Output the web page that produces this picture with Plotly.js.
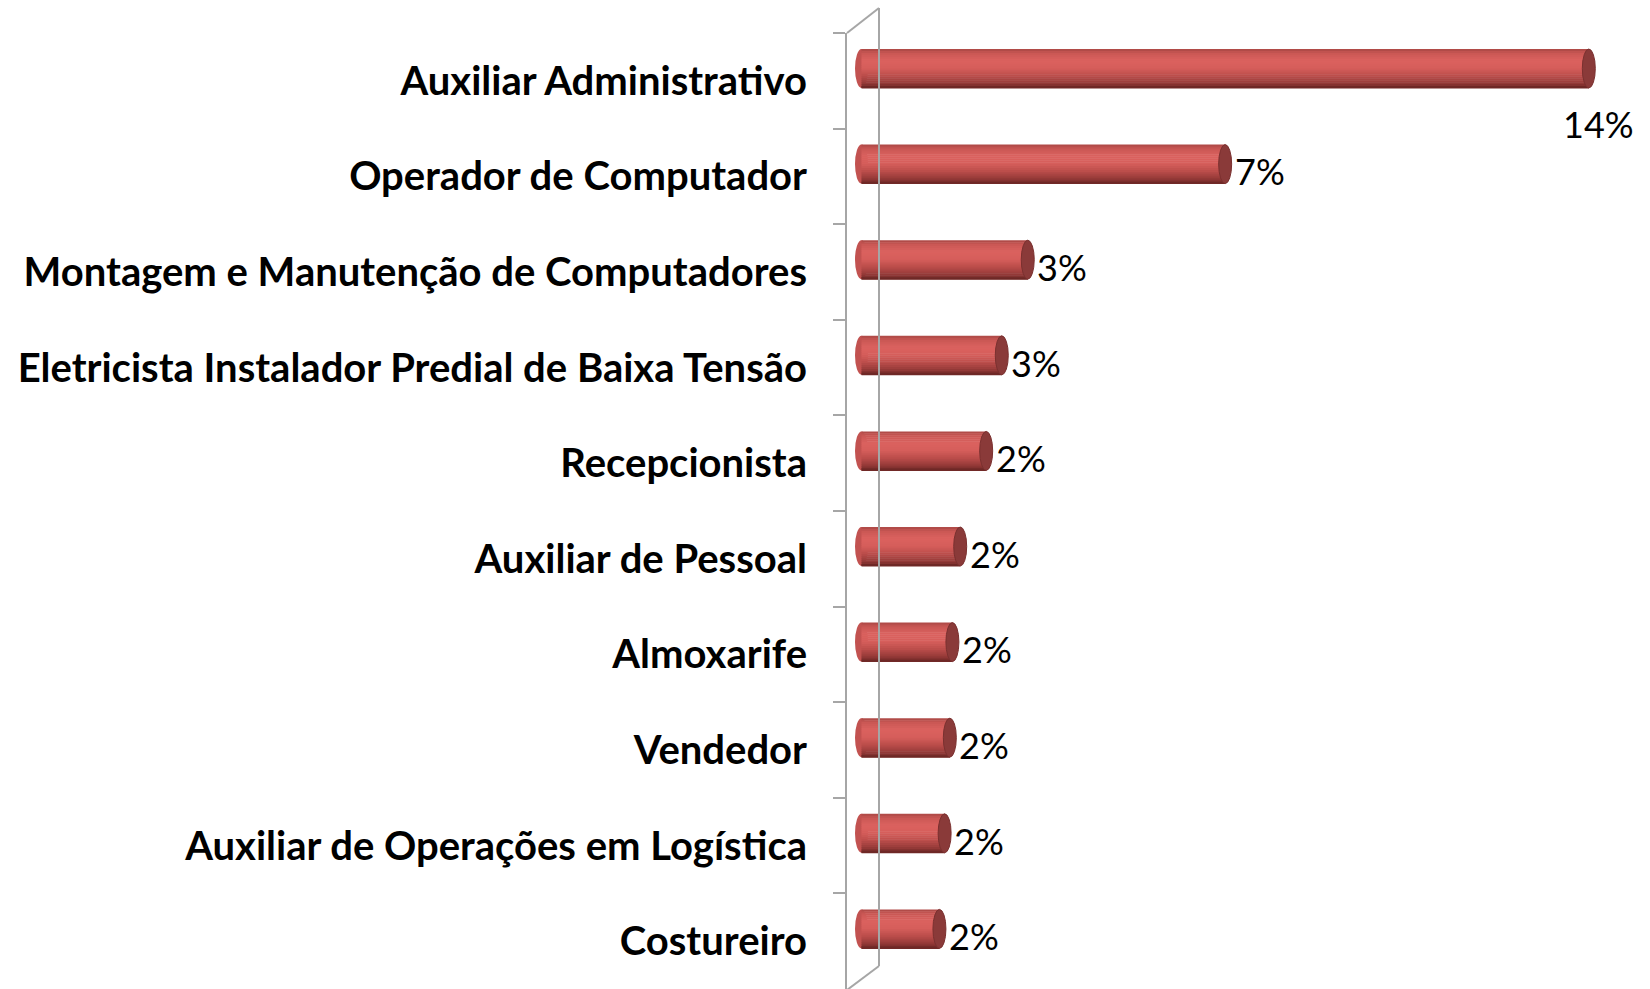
<!DOCTYPE html>
<html>
<head>
<meta charset="utf-8">
<script src="https://cdn.plot.ly/plotly-3.0.1.min.js"></script>
<style>html,body{margin:0;padding:0;background:#fff;}#chart{width:1650px;height:989px;}</style>
</head>
<body>
<div id="chart"></div>
<script>
const categories = [
  "Auxiliar Administrativo",
  "Operador de Computador",
  "Montagem e Manutenção de Computadores",
  "Eletricista Instalador Predial de Baixa Tensão",
  "Recepcionista",
  "Auxiliar de Pessoal",
  "Almoxarife",
  "Vendedor",
  "Auxiliar de Operações em Logística",
  "Costureiro"
];
const values = [14.0, 7.0, 3.2, 2.7, 2.4, 1.9, 1.75, 1.7, 1.6, 1.5];
const valueLabels = ["14%", "7%", "3%", "3%", "2%", "2%", "2%", "2%", "2%", "2%"];

const W = 1650, H = 989;
const marginL = 847, marginT = 33;
const plotW = W - marginL, plotH = H - marginT;
const pxPerUnit = 51.95;
const xMin = -14.5 / pxPerUnit;
const xMax = xMin + plotW / pxPerUnit;
const catPx = plotH / categories.length;

const barW = 39 / catPx;
const centerShift = -12.3 / catPx;   // bar sits higher than category centre (3D depth)
const capHalf = 6.5 / pxPerUnit;

const idx = categories.map((_, i) => i);

// cylinder shading profile (top -> bottom)
const stops = [
  [0.00, [169, 71, 68]],
  [0.10, [201, 87, 84]],
  [0.30, [219, 98, 95]],
  [0.50, [213, 93, 90]],
  [0.70, [184, 76, 73]],
  [0.85, [154, 60, 58]],
  [1.00, [110, 40, 38]]
];
function shade(t) {
  for (let k = 0; k < stops.length - 1; k++) {
    const [t0, c0] = stops[k], [t1, c1] = stops[k + 1];
    if (t >= t0 && t <= t1) {
      const f = (t - t0) / (t1 - t0);
      const c = c0.map((v, j) => Math.round(v + (c1[j] - v) * f));
      return "rgb(" + c.join(",") + ")";
    }
  }
  return "rgb(110,40,38)";
}
const N = 20;
const strip = barW / N;
const traces = [];
for (let s = 0; s < N; s++) {
  const t = (s + 0.5) / N;
  const top = centerShift - barW / 2 + s * strip;
  traces.push({
    type: "bar", orientation: "h",
    x: values, y: categories,
    width: strip * 1.25, offset: top,
    marker: {color: shade(t), line: {width: 0}},
    hoverinfo: "skip", showlegend: false
  });
}
traces.push({
  type: "bar", orientation: "h", x: values, y: categories,
  width: strip, offset: centerShift + barW / 2 - strip,
  marker: {color: shade(1), line: {width: 0}}, hoverinfo: "skip", showlegend: false
});

const shapes = [];
const yTop = i => i + centerShift - barW / 2;
const yBot = i => i + centerShift + barW / 2;
idx.forEach(i => {
  shapes.push({type: "circle", xref: "x", yref: "y", layer: "below",
    x0: -capHalf, x1: capHalf, y0: yTop(i), y1: yBot(i),
    fillcolor: "#c25250", line: {width: 0}});
  shapes.push({type: "circle", xref: "x", yref: "y", layer: "above",
    x0: values[i] - capHalf, x1: values[i] + capHalf, y0: yTop(i), y1: yBot(i),
    fillcolor: "#8a3a39", line: {color: "#7a302f", width: 1}});
});

const px2paperX = p => (p - marginL) / plotW;
const px2paperY = p => (H - p) / plotH;
const wallColor = "#a6a6a6";
shapes.push({type: "line", xref: "paper", yref: "paper",
  x0: px2paperX(879), x1: px2paperX(879), y0: px2paperY(8), y1: px2paperY(966),
  line: {color: wallColor, width: 2}});
shapes.push({type: "line", xref: "paper", yref: "paper",
  x0: px2paperX(847), x1: px2paperX(879), y0: px2paperY(33), y1: px2paperY(8),
  line: {color: wallColor, width: 2}});
shapes.push({type: "line", xref: "paper", yref: "paper",
  x0: px2paperX(879), x1: px2paperX(847), y0: px2paperY(966), y1: px2paperY(990),
  line: {color: wallColor, width: 2}});

const annotations = idx.map(i => {
  if (i === 0) {
    return {x: values[i], y: categories[i], xref: "x", yref: "y",
      text: valueLabels[i], showarrow: false, xanchor: "center", yanchor: "middle",
      xshift: 10, yshift: -43,
      font: {family: "Lato, 'Open Sans', sans-serif", size: 36, color: "#000"}};
  }
  return {x: values[i] + capHalf, y: categories[i], xref: "x", yref: "y",
    text: valueLabels[i], showarrow: false, xanchor: "left", yanchor: "middle",
    xshift: 1, yshift: 5,
    font: {family: "Lato, 'Open Sans', sans-serif", size: 36, color: "#000"}};
});

const layout = {
  width: W, height: H,
  margin: {l: marginL, r: 0, t: marginT, b: 0, pad: 0},
  paper_bgcolor: "#ffffff", plot_bgcolor: "rgba(0,0,0,0)",
  barmode: "overlay",
  showlegend: false,
  xaxis: {range: [xMin, xMax], visible: false, showgrid: false, zeroline: false, fixedrange: true},
  yaxis: {
    type: "category", categoryorder: "array", categoryarray: categories,
    range: [categories.length - 0.5, -0.5],
    showline: true, linecolor: wallColor, linewidth: 2,
    ticks: "outside", tickson: "boundaries", ticklen: 12, tickwidth: 2, tickcolor: wallColor,
    ticklabelstandoff: 30,
    showgrid: false, zeroline: false, fixedrange: true,
    tickfont: {family: "Lato, 'Open Sans', sans-serif", size: 40, color: "#000", weight: "bold"}
  },
  shapes: shapes,
  annotations: annotations
};

Plotly.newPlot("chart", traces, layout, {displayModeBar: false, staticPlot: true});
</script>
</body>
</html>
